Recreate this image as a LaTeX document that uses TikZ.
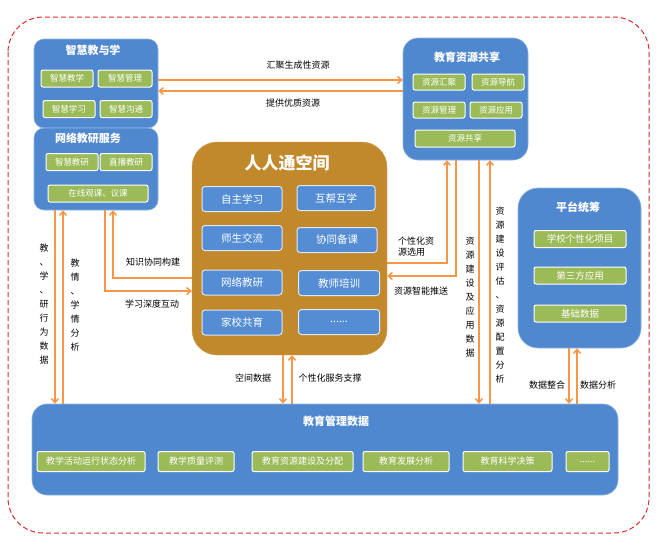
\documentclass[tikz,border=0pt]{standalone}
\usepackage{fontspec}
\setmainfont{Noto Sans CJK SC}
\usetikzlibrary{arrows.meta}
\definecolor{panelblue}{HTML}{5088CF}
\definecolor{paneledge}{HTML}{8DB3E2}
\definecolor{itemgreen}{HTML}{9BBB59}
\definecolor{spaceorange}{HTML}{C2892C}
\definecolor{tileblue}{HTML}{548DD4}
\definecolor{flowline}{HTML}{F79646}
\definecolor{framered}{HTML}{D52B2B}

\begin{document}
\begin{tikzpicture}[x=1pt, y=-1pt,
  group/.style={draw=paneledge, fill=panelblue, line width=0.6pt, inner sep=0pt},
  head/.style={text=white, font=\bfseries\fontsize{11}{13}\selectfont, inner sep=0pt},
  item/.style={draw=white, line width=1pt, fill=itemgreen, rounded corners=2pt, text=white,
    font=\fontsize{8.5}{10}\selectfont, inner sep=0pt, minimum width=52pt, minimum height=17pt},
  tile/.style={draw=white!80!tileblue, line width=1pt, fill=tileblue, rounded corners=3pt, text=white,
    font=\fontsize{10.5}{12}\selectfont, inner sep=0pt, minimum width=80pt, minimum height=25pt},
  flow/.style={draw=flowline, line width=1.5pt, -{Straight Barb[length=4pt, width=7pt]}},
  lbl/.style={font=\fontsize{9}{11}\selectfont, inner sep=0pt},
  vlbl/.style={lbl, align=center, font=\fontsize{9}{14}\selectfont}
]
  \useasboundingbox (0,0) rectangle (665,552);
  \draw[framered, line width=1pt, dash pattern=on 5pt off 3pt, rounded corners=35pt] (8,17) rectangle (649,533);

  % containers
  \node[group, rounded corners=10pt, minimum width=124pt, minimum height=89pt] (teach) at (96,83.5) {};
  \node[group, rounded corners=10pt, minimum width=124pt, minimum height=82pt] (research) at (96,169) {};
  \node[group, rounded corners=15pt, minimum width=125pt, minimum height=122pt] (share) at (465.5,99) {};
  \node[draw=spaceorange!80!white, fill=spaceorange, rounded corners=25pt, minimum width=195pt, minimum height=213pt] (space) at (289.5,248.5) {};
  \node[group, rounded corners=20pt, minimum width=123pt, minimum height=160pt] (platform) at (579.5,268) {};
  \node[group, rounded corners=15pt, minimum width=586pt, minimum height=91pt] (data) at (325,449.5) {};

  % 智慧教与学
  \node[head] (teachT) at (93,50) {智慧教与学};
  \node[item] (t1) at (67,78.5) {智慧教学};
  \node[item, minimum width=54pt] (t2) at (125,78.5) {智慧管理};
  \node[item] (t3) at (69,109) {智慧学习};
  \node[item] (t4) at (126,109) {智慧沟通};

  % 网络教研服务
  \node[head] (researchT) at (88,138) {网络教研服务};
  \node[item] (r1) at (72,162) {智慧教研};
  \node[item] (r2) at (126,162) {直播教研};
  \node[item, minimum width=100pt] (r3) at (98,193.5) {在线观课、议课};

  % 教育资源共享
  \node[head] (shareT) at (467,57) {教育资源共享};
  \node[item, minimum height=16pt] (s1) at (439,82) {资源汇聚};
  \node[item, minimum height=16pt] (s2) at (498,82) {资源导航};
  \node[item, minimum height=16pt] (s3) at (439,110) {资源管理};
  \node[item, minimum height=16pt] (s4) at (496,110) {资源应用};
  \node[item, minimum width=100pt] (s5) at (465,138.5) {资源共享};

  % 人人通空间
  \node[head, font=\bfseries\fontsize{17}{19}\selectfont] (spaceT) at (287,163) {人人通空间};
  \node[tile] (a1) at (242,199) {自主学习};
  \node[tile, minimum width=78pt] (a2) at (336,198) {互帮互学};
  \node[tile] (a3) at (242,238) {师生交流};
  \node[tile, minimum width=80pt] (a4) at (337,240) {协同备课};
  \node[tile] (a5) at (242,282.5) {网络教研};
  \node[tile, minimum width=81pt] (a6) at (339,283) {教师培训};
  \node[tile] (a7) at (242,322.5) {家校共育};
  \node[tile, minimum width=81pt] (a8) at (339,322) {......};

  % 平台统筹
  \node[head] (platformT) at (578,207) {平台统筹};
  \node[item, minimum width=92pt, font=\fontsize{9.5}{11}\selectfont] (p1) at (580,239) {学校个性化项目};
  \node[item, minimum width=92pt, font=\fontsize{9.5}{11}\selectfont] (p2) at (580,275.5) {第三方应用};
  \node[item, minimum width=92pt, font=\fontsize{9.5}{11}\selectfont] (p3) at (580,313.5) {基础数据};

  % 教育管理数据
  \node[head] (dataT) at (336,421) {教育管理数据};
  \node[item, minimum width=108pt, minimum height=20pt, font=\fontsize{9}{11}\selectfont] (d1) at (91,461.5) {教学活动运行状态分析};
  \node[item, minimum width=76pt, minimum height=20pt, font=\fontsize{9}{11}\selectfont] (d2) at (196,461.5) {教学质量评测};
  \node[item, minimum width=101pt, minimum height=20pt, font=\fontsize{9}{11}\selectfont] (d3) at (302.5,461.5) {教育资源建设及分配};
  \node[item, minimum width=86pt, minimum height=20pt, font=\fontsize{9}{11}\selectfont] (d4) at (406,461.5) {教育发展分析};
  \node[item, minimum width=89pt, minimum height=20pt, font=\fontsize{9}{11}\selectfont] (d5) at (507.5,461.5) {教育科学决策};
  \node[item, minimum width=43pt, minimum height=20pt, font=\fontsize{9}{11}\selectfont] (d6) at (587.5,461.5) {......};

  % connectors
  \draw[flow] (teach.east |- 0,80) -- (share.west |- 0,80);
  \draw[flow] (share.west |- 0,91) -- (teach.east |- 0,91);
  \node[lbl] (l1) at (298,65) {汇聚生成性资源};
  \node[lbl] (l2) at (293,103) {提供优质资源};

  \draw[flow] (research.south -| 55,0) -- (data.north -| 55,0);
  \draw[flow] (data.north -| 63,0) -- (research.south -| 63,0);
  \node[vlbl] (l3) at (44,304) {教\\、\\学\\、\\研\\行\\为\\数\\据};
  \node[vlbl] (l4) at (75,305) {教\\情\\、\\学\\情\\分\\析};

  \draw[flow] (research.south -| 105,0) |- (space.west |- 0,291);
  \draw[flow] (space.west |- 0,278) -| (research.south -| 113,0);
  \node[lbl] (l5) at (153,262) {知识协同构建};
  \node[lbl] (l6) at (152,304) {学习深度互动};

  \draw[flow] (space.east |- 0,263) -| (share.south -| 447,0);
  \draw[flow] (share.south -| 456,0) |- (space.east |- 0,276);
  \node[lbl, align=left] (l7) at (416,247) {个性化资\\源选用};
  \node[lbl] (l8) at (421,291) {资源智能推送};

  \draw[flow] (share.south -| 479,0) -- (data.north -| 479,0);
  \draw[flow] (data.north -| 490,0) -- (share.south -| 490,0);
  \node[vlbl] (l9) at (470,297) {资\\源\\建\\设\\及\\应\\用\\数\\据};
  \node[vlbl] (l10) at (500,295) {资\\源\\建\\设\\评\\估\\、\\资\\源\\配\\置\\分\\析};

  \draw[flow] (space.south -| 283,0) -- (data.north -| 283,0);
  \draw[flow] (data.north -| 292,0) -- (space.south -| 292,0);
  \node[lbl] (l11) at (253,378) {空间数据};
  \node[lbl] (l12) at (330,378) {个性化服务支撑};

  \draw[flow] (platform.south -| 569,0) -- (data.north -| 569,0);
  \draw[flow] (data.north -| 577,0) -- (platform.south -| 577,0);
  \node[lbl] (l13) at (547,385) {数据整合};
  \node[lbl] (l14) at (598,385) {数据分析};
\end{tikzpicture}
\end{document}
